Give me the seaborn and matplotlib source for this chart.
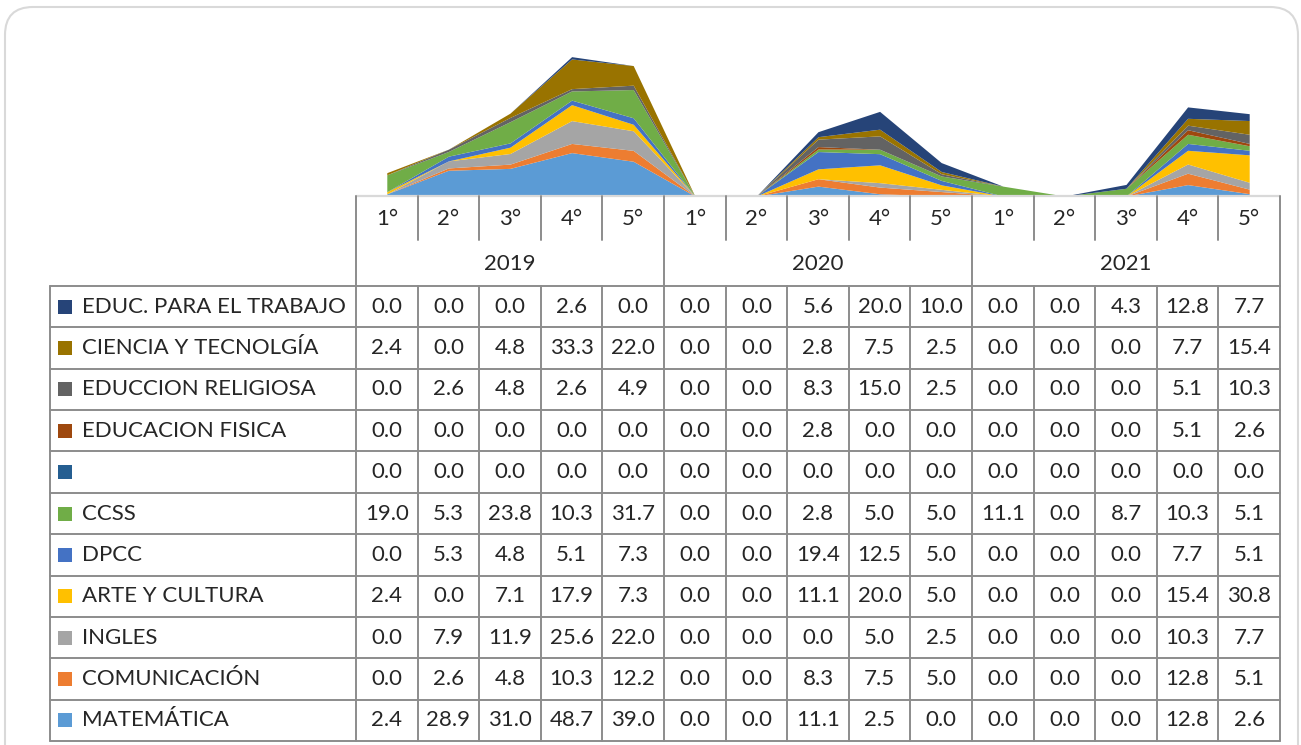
import numpy as np
import pandas as pd
import matplotlib
matplotlib.use("Agg")
import matplotlib.pyplot as plt
from matplotlib.patches import FancyBboxPatch, Rectangle
import seaborn as sns

# --- Data (table rows, top to bottom) ---
years = ["2019", "2020", "2021"]
grades = ["1°", "2°", "3°", "4°", "5°"]

subjects = ["EDUC. PARA EL TRABAJO", "CIENCIA Y TECNOLGÍA", "EDUCCION RELIGIOSA",
            "EDUCACION FISICA", "", "CCSS", "DPCC", "ARTE Y CULTURA",
            "INGLES", "COMUNICACIÓN", "MATEMÁTICA"]

trabajo = [0.0, 0.0, 0.0, 2.6, 0.0, 0.0, 0.0, 5.6, 20.0, 10.0, 0.0, 0.0, 4.3, 12.8, 7.7]
ciencia = [2.4, 0.0, 4.8, 33.3, 22.0, 0.0, 0.0, 2.8, 7.5, 2.5, 0.0, 0.0, 0.0, 7.7, 15.4]
religiosa = [0.0, 2.6, 4.8, 2.6, 4.9, 0.0, 0.0, 8.3, 15.0, 2.5, 0.0, 0.0, 0.0, 5.1, 10.3]
fisica = [0.0, 0.0, 0.0, 0.0, 0.0, 0.0, 0.0, 2.8, 0.0, 0.0, 0.0, 0.0, 0.0, 5.1, 2.6]
blank = [0.0] * 15
ccss = [19.0, 5.3, 23.8, 10.3, 31.7, 0.0, 0.0, 2.8, 5.0, 5.0, 11.1, 0.0, 8.7, 10.3, 5.1]
dpcc = [0.0, 5.3, 4.8, 5.1, 7.3, 0.0, 0.0, 19.4, 12.5, 5.0, 0.0, 0.0, 0.0, 7.7, 5.1]
arte = [2.4, 0.0, 7.1, 17.9, 7.3, 0.0, 0.0, 11.1, 20.0, 5.0, 0.0, 0.0, 0.0, 15.4, 30.8]
ingles = [0.0, 7.9, 11.9, 25.6, 22.0, 0.0, 0.0, 0.0, 5.0, 2.5, 0.0, 0.0, 0.0, 10.3, 7.7]
comunicacion = [0.0, 2.6, 4.8, 10.3, 12.2, 0.0, 0.0, 8.3, 7.5, 5.0, 0.0, 0.0, 0.0, 12.8, 5.1]
matematica = [2.4, 28.9, 31.0, 48.7, 39.0, 0.0, 0.0, 11.1, 2.5, 0.0, 0.0, 0.0, 0.0, 12.8, 2.6]

series = [trabajo, ciencia, religiosa, fisica, blank, ccss, dpcc, arte,
          ingles, comunicacion, matematica]
colors = ["#264478", "#997300", "#636363", "#9E480E", "#255E91", "#70AD47",
          "#4472C4", "#FFC000", "#A5A5A5", "#ED7D31", "#5B9BD5"]

rows = []
for name, vals in zip(subjects, series):
    for i, v in enumerate(vals):
        rows.append({"pos": i, "subject": name, "value": v})
df = pd.DataFrame(rows)

# --- Figure ---
sns.set_theme(style="white")
plt.rcParams["font.family"] = ["Lato", "DejaVu Sans"]

W, H = 1301, 745
fig = plt.figure(figsize=(W / 100, H / 100), dpi=100)

# pixel geometry
x0, x1 = 356, 1280          # category area
base_y = 196                # axis baseline
px_per_unit = 0.891
ymax = 180
ncol = 15
cw = (x1 - x0) / ncol

ax = fig.add_axes([x0 / W, (H - base_y) / H, (x1 - x0) / W, ymax * px_per_unit / H])
sns.histplot(data=df, x="pos", weights="value", hue="subject",
             hue_order=subjects, palette=colors, discrete=True,
             multiple="stack", element="poly", linewidth=0, alpha=1,
             legend=False, ax=ax)
ax.set_xlim(-0.5, ncol - 0.5)
ax.set_ylim(0, ymax)
ax.axis("off")

# overlay for the data table
ov = fig.add_axes([0, 0, 1, 1], zorder=5)
ov.set_xlim(0, W)
ov.set_ylim(H, 0)
ov.axis("off")
ov.patch.set_alpha(0)

box = FancyBboxPatch((5, 7), 1293, 780, boxstyle="round,pad=0,rounding_size=28",
                     fc="none", ec="#d9d9d9", lw=1.5, transform=ov.transData,
                     clip_on=False)
ov.add_patch(box)

grid_c = "#8c8c8c"
glw = 1.4
fs = 16

# axis line
ov.plot([x0, x1], [base_y, base_y], color="#d9d9d9", lw=1.6)

row_top = 286
row_bot = 741
nrow = len(subjects)
rh = (row_bot - row_top) / nrow
lab_x = 50

# header: grades and years
for j in range(ncol):
    cx = x0 + cw * (j + 0.5)
    ov.text(cx, 219, grades[j % 5], ha="center", va="center", fontsize=fs)
    if j % 5 != 0:
        ov.plot([x0 + cw * j] * 2, [base_y, 240], color=grid_c, lw=glw)
for k, yr in enumerate(years):
    ov.text(x0 + cw * (5 * k + 2.5), 264, yr, ha="center", va="center", fontsize=fs)
for k in range(4):
    ov.plot([x0 + cw * 5 * k] * 2, [base_y, row_bot], color=grid_c, lw=glw)

# body rows
for r in range(nrow + 1):
    y = row_top + rh * r
    ov.plot([lab_x, x1], [y, y], color=grid_c, lw=glw)
ov.plot([lab_x, lab_x], [row_top, row_bot], color=grid_c, lw=glw)
for j in range(1, ncol):
    if j % 5 != 0:
        ov.plot([x0 + cw * j] * 2, [row_top, row_bot], color=grid_c, lw=glw)

for r, (name, vals, c) in enumerate(zip(subjects, series, colors)):
    cy = row_top + rh * (r + 0.5)
    ov.add_patch(Rectangle((58, cy - 7), 14, 14, fc=c, ec="none"))
    ov.text(82, cy, name, ha="left", va="center", fontsize=fs)
    for j, v in enumerate(vals):
        ov.text(x0 + cw * (j + 0.5), cy, f"{v:.1f}", ha="center", va="center",
                fontsize=fs)

fig.savefig("out.png", dpi=100, facecolor="white")
